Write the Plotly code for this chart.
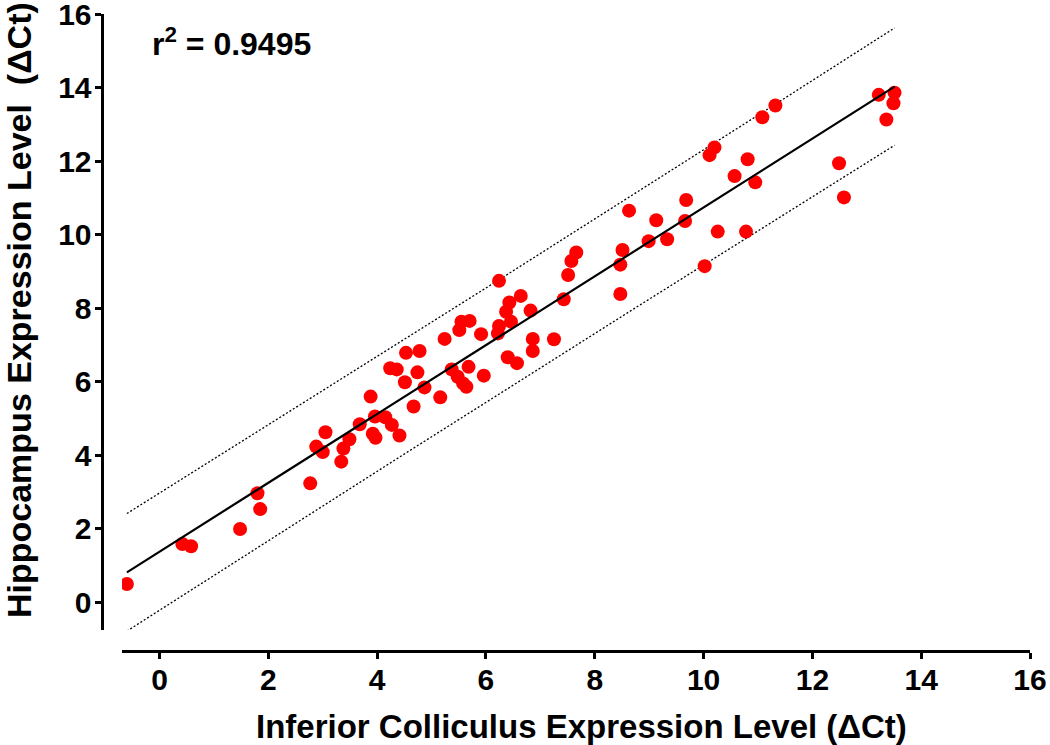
import numpy as np
import plotly.graph_objects as go

# Inferior colliculus (x) vs hippocampus (y) expression levels (ΔCt)
ic_dct = [-0.60, 0.42, 0.58, 1.48, 1.80, 1.85, 2.77, 2.88, 3.00, 3.05,
          3.34, 3.38, 3.49, 3.68, 3.88, 3.92, 3.97, 3.96, 4.15, 4.27,
          4.41, 4.24, 4.36, 4.51, 4.53, 4.78, 4.74, 4.67, 4.87, 5.16,
          5.24, 5.37, 5.51, 5.55, 5.70, 5.48, 5.58, 5.64, 5.68, 5.96,
          5.91, 6.22, 6.24, 6.24, 6.37, 6.43, 6.46, 6.64, 6.40, 6.57,
          6.82, 6.86, 6.86, 7.25, 7.43, 7.51, 7.57, 7.66, 8.47, 8.47,
          8.51, 8.63, 8.99, 9.13, 9.33, 9.68, 9.66, 10.02, 10.11, 10.20,
          10.26, 10.57, 10.81, 10.78, 10.95, 11.08, 11.32, 12.49, 12.58, 13.22,
          13.36, 13.51, 13.49]
hc_dct = [0.49, 1.58, 1.52, 1.99, 2.96, 2.53, 3.23, 4.23, 4.08, 4.62,
          3.82, 4.18, 4.43, 4.84, 5.59, 4.58, 4.47, 5.05, 5.03, 4.82,
          4.53, 6.36, 6.33, 5.98, 6.78, 6.83, 6.25, 5.32, 5.84, 5.57,
          7.16, 6.33, 7.40, 7.63, 7.65, 6.13, 5.95, 5.86, 6.40, 6.16,
          7.29, 7.31, 7.51, 8.74, 7.90, 8.15, 7.63, 8.33, 6.66, 6.50,
          7.93, 7.16, 6.83, 7.15, 8.24, 8.90, 9.28, 9.51, 8.38, 9.18,
          9.58, 10.65, 9.82, 10.39, 9.87, 10.94, 10.37, 9.14, 12.16, 12.37,
          10.08, 11.59, 12.05, 10.08, 11.42, 13.19, 13.51, 11.94, 11.01, 13.80,
          13.13, 13.86, 13.57]

r2_text = "r<sup>2</sup> = 0.9495"
tick_vals = [0, 2, 4, 6, 8, 10, 12, 14, 16]
t_crit = 1.99  # two-sided 95% t value, df ~ 81

# Linear regression with 95% prediction band
x = np.array(ic_dct)
y = np.array(hc_dct)
n = len(x)
slope, intercept = np.polyfit(x, y, 1)
resid = y - (slope * x + intercept)
s = np.sqrt(np.sum(resid ** 2) / (n - 2))
xm = x.mean()
sxx = np.sum((x - xm) ** 2)
xl = np.linspace(x.min(), x.max(), 200)
yl = slope * xl + intercept
hw = t_crit * s * np.sqrt(1 + 1 / n + (xl - xm) ** 2 / sxx)

FONT = "Liberation Sans, Arial, sans-serif"

fig = go.Figure()
fig.add_trace(go.Scatter(x=xl, y=yl + hw, mode="lines",
                         line=dict(color="black", width=1.3, dash="2px,2px"),
                         hoverinfo="skip", showlegend=False))
fig.add_trace(go.Scatter(x=xl, y=yl - hw, mode="lines",
                         line=dict(color="black", width=1.3, dash="2px,2px"),
                         hoverinfo="skip", showlegend=False))
fig.add_trace(go.Scatter(x=ic_dct, y=hc_dct, mode="markers",
                         marker=dict(color="#ff0000", size=14, line=dict(width=0)),
                         showlegend=False))
fig.add_trace(go.Scatter(x=xl, y=yl, mode="lines",
                         line=dict(color="black", width=2.2),
                         hoverinfo="skip", showlegend=False))

W, H = 1050, 745
ml, mr, mt, mb = 60, 18, 14, 94
pw, ph = W - ml - mr, H - mt - mb

def px_x(p):
    return (p - ml) / pw

def px_y(p):
    return (H - mb - p) / ph

tickfont = dict(family=FONT, size=30, color="black", weight="bold")
axis_common = dict(tickvals=tick_vals, ticks="outside", ticklen=6, tickwidth=3,
                   tickcolor="black", showline=True, linewidth=3, linecolor="black",
                   showgrid=False, zeroline=False, automargin=False,
                   ticklabeloverflow="allow", tickfont=tickfont)

fig.update_layout(
    width=W, height=H,
    margin=dict(l=ml, r=mr, t=mt, b=mb, autoexpand=False),
    plot_bgcolor="white", paper_bgcolor="white",
    font=dict(family=FONT, color="black"),
    xaxis=dict(range=[-0.69, 16], domain=[px_x(122), px_x(1030)],
               anchor="free", position=0, ticklabelstandoff=-5, **axis_common),
    yaxis=dict(range=[-0.76, 16], domain=[px_y(630), 1],
               anchor="free", position=px_x(101.5), ticklabelstandoff=-3, **axis_common),
    annotations=[
        dict(text="Inferior Colliculus Expression Level (ΔCt)", xref="paper", yref="paper",
             x=px_x(581), y=px_y(726), xanchor="center", yanchor="middle", showarrow=False,
             font=dict(family=FONT, size=33, color="black", weight="bold")),
        dict(text="Hippocampus Expression Level  (ΔCt)", xref="paper", yref="paper",
             x=px_x(19), y=px_y(310), xanchor="center", yanchor="middle", showarrow=False,
             textangle=-90,
             font=dict(family=FONT, size=34, color="black", weight="bold")),
        dict(text=r2_text, xref="paper", yref="paper",
             x=px_x(150), y=px_y(42), xanchor="left", yanchor="middle", showarrow=False,
             font=dict(family=FONT, size=32, color="black", weight="bold")),
    ],
)

fig.write_html("out.html", config={"displayModeBar": False},
               post_script="document.body.style.margin='0px';")
